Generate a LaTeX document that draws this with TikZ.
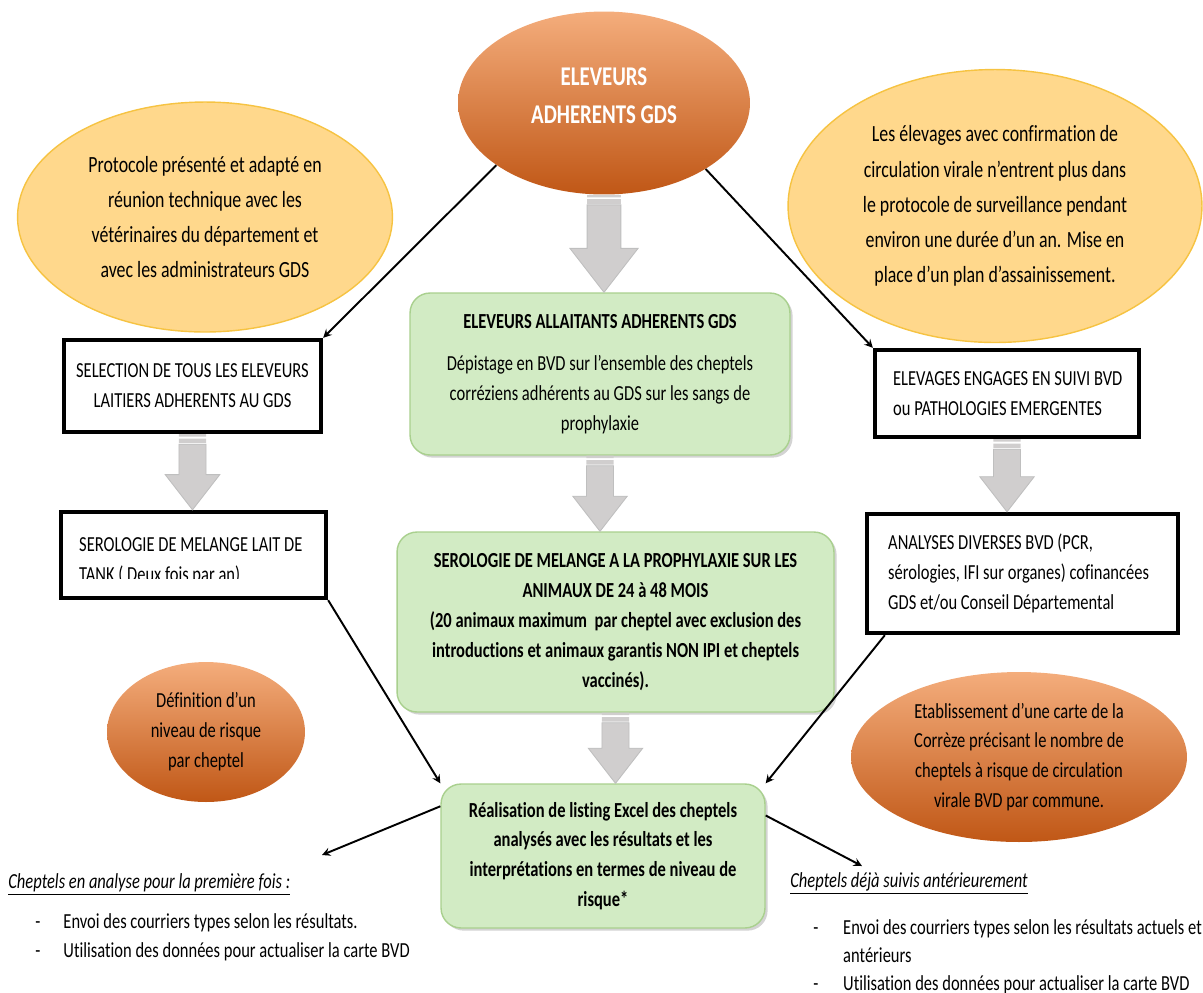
\documentclass[tikz,border=0pt]{standalone}
\usepackage{fontspec}
\setmainfont{Carlito}[FakeStretch=0.77, Ligatures={TeX,NoCommon}]
\usetikzlibrary{calc,shapes.geometric,shadows,arrows}
\definecolor{jaune}{HTML}{FFD88C}
\definecolor{jaunebord}{HTML}{F6C342}
\definecolor{orclair}{HTML}{F4AD7C}
\definecolor{ormilieu}{HTML}{EF8237}
\definecolor{orfonce}{HTML}{C05716}
\definecolor{vertfond}{HTML}{D2EBC4}
\definecolor{vertbord}{HTML}{A9D08E}
\definecolor{grisfond}{HTML}{D0CECE}
\definecolor{grisbord}{HTML}{BFBFBF}
\newcommand\blockarrow[3][1]{%
	\fill[grisfond] let \p1=(#2.south), \p2=(#3.north) in
		(\x1-7.7pt*#1,\y1) rectangle (\x1+7.7pt*#1,\y1-1.4pt)
		(\x1-7.7pt*#1,\y1-2.5pt) rectangle (\x1+7.7pt*#1,\y1-5.1pt);
	\draw[fill=grisfond, draw=grisbord, line width=0.5pt] let \p1=(#2.south), \p2=(#3.north) in
		(\x1-7.7pt*#1,\y1-5.7pt) -- (\x1-7.7pt*#1,\y2+20pt*#1) -- (\x1-15.5pt*#1,\y2+20pt*#1)
		-- (\x1,\y2) -- (\x1+15.5pt*#1,\y2+20pt*#1) -- (\x1+7.7pt*#1,\y2+20pt*#1)
		-- (\x1+7.7pt*#1,\y1-5.7pt) -- cycle;
}
\begin{document}
\begin{tikzpicture}[x=0.02cm, y=-0.02cm, font=\fontsize{12.2}{17}\selectfont,
		bulle/.style={ellipse, inner sep=0pt, align=center, fill=jaune, draw=jaunebord, line width=0.8pt, font=\fontsize{13.2}{20}\selectfont},
		ovale/.style={ellipse, inner sep=0pt, align=center, top color=orclair, middle color=ormilieu, bottom color=orfonce},
		boite/.style={draw, line width=2.5pt, fill=white, inner sep=0pt},
		vert/.style={rounded corners=0.4cm, fill=vertfond, draw=vertbord, line width=0.8pt, align=center, inner sep=0pt, drop shadow={opacity=0.35, shadow xshift=1.5pt, shadow yshift=-1.5pt}},
		fleche/.style={-stealth, line width=1.1pt}]
	\useasboundingbox (0,0) rectangle (1203,992);
	
	\node[ovale, minimum width=5.84cm, minimum height=3.66cm, text=white, text depth=8pt, font=\fontsize{15.4}{21.5}\selectfont\bfseries] (eleveurs) at (604,103) {ELEVEURS\\ADHERENTS GDS};
	\node[bulle, minimum width=7.5cm, minimum height=4.6cm] (protocole) at (205,217) {Protocole présenté et adapté en\\réunion technique avec les\\vétérinaires du département et\\avec les administrateurs GDS};
	\node[bulle, minimum width=8.28cm, minimum height=5.46cm] (sortie) at (995,206) {Les élevages avec confirmation de\\circulation virale n’entrent plus dans\\le protocole de surveillance pendant\\environ une durée d’un an. Mise en\\place d’un plan d’assainissement.};
	
	\node[boite, align=center, minimum width=5.14cm, minimum height=1.84cm] (selection) at (192.5,386) {SELECTION DE TOUS LES ELEVEURS\\LAITIERS ADHERENTS AU GDS};
	\node[boite, minimum width=5.28cm, minimum height=1.74cm] (suivi) at (1007,393.5) {};
	\node[align=left, anchor=west, inner sep=0pt] (suivitexte) at ([xshift=0.4cm]suivi.west) {ELEVAGES ENGAGES EN SUIVI BVD\\ou PATHOLOGIES EMERGENTES};
	\node[boite, minimum width=5.3cm, minimum height=1.72cm] (tank) at (193.5,555) {};
	\begin{scope}
		\clip (61,505) rectangle (326,578);
		\node[align=left, anchor=west, inner sep=0pt] (tanktexte) at ([xshift=0.4cm, yshift=-3.4pt]tank.west) {SEROLOGIE DE MELANGE LAIT DE\\TANK ( Deux fois par an)};
	\end{scope}
	\node[boite, minimum width=6.22cm, minimum height=2.38cm] (analyses) at (1022.5,573.5) {};
	\node[align=left, anchor=west, inner sep=0pt] (analysestexte) at ([xshift=0.46cm]analyses.west) {ANALYSES DIVERSES BVD (PCR,\\sérologies, IFI sur organes) cofinancées\\GDS et/ou Conseil Départemental};
	
	\node[vert, minimum width=7.6cm, minimum height=3.24cm] (allaitants) at (600,374) {\textbf{ELEVEURS ALLAITANTS ADHERENTS GDS}\\[7pt]Dépistage en BVD sur l’ensemble des cheptels\\corréziens adhérents au GDS sur les sangs de\\prophylaxie};
	\node[vert, minimum width=8.74cm, minimum height=3.6cm, font=\fontsize{12.2}{17}\selectfont\bfseries] (serologie) at (615.5,622) {SEROLOGIE DE MELANGE A LA PROPHYLAXIE SUR LES\\ANIMAUX DE 24 à 48 MOIS\\(20 animaux maximum~ par cheptel avec exclusion des\\introductions et animaux garantis NON IPI et cheptels\\vaccinés).};
	\node[vert, minimum width=6.48cm, minimum height=2.88cm, font=\fontsize{12.2}{17}\selectfont\bfseries] (listing) at (603,856) {Réalisation de listing Excel des cheptels\\analysés avec les résultats et les\\interprétations en termes de niveau de\\risque*};
	
	\node[ovale, minimum width=3.96cm, minimum height=2.8cm] (risque) at (206,732) {Définition d’un\\niveau de risque\\par cheptel};
	\node[ovale, minimum width=6.72cm, minimum height=3.4cm] (carte) at (1019,757) {Etablissement d’une carte de la\\Corrèze précisant le nombre de\\cheptels à risque de circulation\\virale BVD par commune.};
	
	\blockarrow[1.25]{eleveurs}{allaitants}
	\blockarrow{allaitants}{serologie}
	\blockarrow{serologie}{listing}
	\blockarrow{selection}{tank}
	\blockarrow{suivi}{analyses}
	
	\draw[fleche] (eleveurs.210) -- (selection.north east);
	\draw[fleche] (eleveurs.-33) -- (suivi.north west);
	\draw[fleche] (tank.south east) -- (listing.north west);
	\draw[fleche] ([xshift=0.4cm]analyses.south west) -- (listing.north east);
	
	\coordinate (premiere) at (322,855);
	\coordinate (anterieur) at (862,866);
	\draw[fleche] (listing.163) -- (premiere);
	\draw[fleche] (listing.14) -- (anterieur);
	
	\node[anchor=base west, inner sep=0pt] (titregauche) at (8,888) {\underline{\textit{Cheptels en analyse pour la première fois :}}};
	\node[anchor=base west, inner sep=0pt] (listegauche) at (35,928) {\begin{tabular}[t]{@{}p{16pt}@{}l@{}}
			- & Envoi des courriers types selon les résultats.\\
			- & Utilisation des données pour actualiser la carte BVD
		\end{tabular}};
	\node[anchor=base west, inner sep=0pt] (titredroite) at (790,887) {\underline{\textit{Cheptels déjà suivis antérieurement}}};
	\node[anchor=base west, inner sep=0pt] (listedroite) at (813,934) {\def\arraystretch{0.95}\begin{tabular}[t]{@{}p{17pt}@{}l@{}}
			- & Envoi des courriers types selon les résultats actuels et\\
			& antérieurs\\
			- & Utilisation des données pour actualiser la carte BVD
		\end{tabular}};
\end{tikzpicture}
\end{document}
